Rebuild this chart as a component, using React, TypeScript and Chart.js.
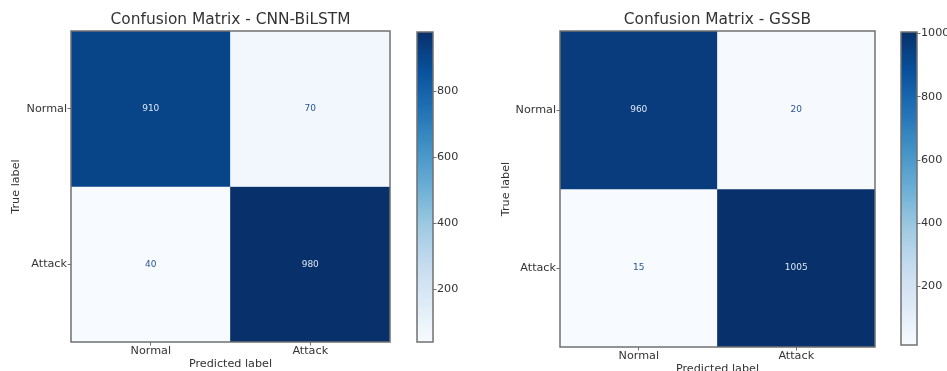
import { useEffect, useRef } from "react";
import { Chart, registerables } from "chart.js";

Chart.register(...registerables);

// Class names shared by both axes of each confusion matrix
const classLabels = ["Normal", "Attack"];

// CNN-BiLSTM: rows are the true label, columns the predicted label
const cnnBilstmNormalRow = [910, 70];
const cnnBilstmAttackRow = [40, 980];

// GSSB: rows are the true label, columns the predicted label
const gssbNormalRow = [960, 20];
const gssbAttackRow = [15, 1005];

// Colorbar tick values
const cnnBilstmColorbarTicks = [200, 400, 600, 800];
const gssbColorbarTicks = [200, 400, 600, 800, 1000];

const FONT = '"DejaVu Sans", "Liberation Sans", sans-serif';
const TEXT_COLOR = "#333333";
const SPINE_COLOR = "#707070";
const CELL_TEXT_ON_DARK = "#dce6f3";
const CELL_TEXT_ON_LIGHT = "#2a5597";

// Matplotlib "Blues" colormap anchor colours
const BLUES: number[][] = [
  [247, 251, 255],
  [222, 235, 247],
  [198, 219, 239],
  [158, 202, 225],
  [107, 174, 214],
  [66, 146, 198],
  [33, 113, 181],
  [8, 81, 156],
  [8, 48, 107],
];

function blues(t: number): string {
  const c = Math.max(0, Math.min(1, t)) * (BLUES.length - 1);
  const i = Math.min(BLUES.length - 2, Math.floor(c));
  const f = c - i;
  const a = BLUES[i];
  const b = BLUES[i + 1];
  const mix = (k: number) => Math.round(a[k] + (b[k] - a[k]) * f);
  return `rgb(${mix(0)}, ${mix(1)}, ${mix(2)})`;
}

// Border around the plotting area (all four spines)
const framePlugin = {
  id: "frame",
  afterDraw(chart: any) {
    const { ctx, chartArea } = chart;
    ctx.save();
    ctx.strokeStyle = SPINE_COLOR;
    ctx.lineWidth = 1.5;
    ctx.strokeRect(
      chartArea.left,
      chartArea.top,
      chartArea.right - chartArea.left,
      chartArea.bottom - chartArea.top
    );
    ctx.restore();
  },
};

type MatrixProps = {
  title: string;
  rows: number[][];
  left: number;
  width: number;
  height: number;
  yAxisWidth: number;
  xAxisHeight: number;
  padRight: number;
  yTitlePad: number;
};

function ConfusionMatrix({
  title,
  rows,
  left,
  width,
  height,
  yAxisWidth,
  xAxisHeight,
  padRight,
  yTitlePad,
}: MatrixProps) {
  const ref = useRef<HTMLCanvasElement | null>(null);

  useEffect(() => {
    if (!ref.current) return;
    const all = rows.flat();
    const vmin = Math.min(...all);
    const vmax = Math.max(...all);
    const thresh = (vmin + vmax) / 2;

    // One floating bar per cell: each true-label row spans its own band on y
    const datasets = rows.map((row, r) => ({
      label: classLabels[r],
      data: row.map(() => [r - 0.5, r + 0.5]),
      backgroundColor: row.map((v) => blues((v - vmin) / (vmax - vmin))),
      borderWidth: 0,
      barPercentage: 1,
      categoryPercentage: 1,
      grouped: false,
    }));

    const cellText = {
      id: "cellText",
      afterDatasetsDraw(chart: any) {
        const { ctx } = chart;
        ctx.save();
        ctx.font = `9px ${FONT}`;
        ctx.textAlign = "center";
        ctx.textBaseline = "middle";
        rows.forEach((row, r) => {
          const meta = chart.getDatasetMeta(r);
          row.forEach((v, c) => {
            const bar: any = meta.data[c];
            const cx = bar.x;
            const cy = (bar.y + bar.base) / 2;
            ctx.fillStyle = v >= thresh ? CELL_TEXT_ON_DARK : CELL_TEXT_ON_LIGHT;
            ctx.fillText(String(v), cx, cy);
          });
        });
        ctx.restore();
      },
    };

    const titlePlugin = {
      id: "panelTitle",
      afterDraw(chart: any) {
        const { ctx, chartArea } = chart;
        ctx.save();
        ctx.font = `15.4px ${FONT}`;
        ctx.fillStyle = TEXT_COLOR;
        ctx.textAlign = "center";
        ctx.textBaseline = "middle";
        ctx.fillText(title, (chartArea.left + chartArea.right) / 2, 20);
        ctx.restore();
      },
    };

    const chart = new Chart(ref.current, {
      type: "bar",
      data: { labels: classLabels, datasets: datasets as any },
      options: {
        animation: false,
        responsive: false,
        maintainAspectRatio: false,
        layout: { padding: { top: 31, right: padRight, left: 0, bottom: 0 } },
        plugins: {
          legend: { display: false },
          tooltip: { enabled: false },
          title: { display: false },
        },
        scales: {
          x: {
            type: "category",
            offset: true,
            grid: {
              offset: false,
              drawOnChartArea: false,
              tickLength: 3.5,
              color: SPINE_COLOR,
            },
            border: { display: false },
            ticks: { font: { family: FONT, size: 11.2 }, color: TEXT_COLOR, padding: -1 },
            title: {
              display: true,
              text: "Predicted label",
              font: { family: FONT, size: 11.2 },
              color: TEXT_COLOR,
              padding: 0,
            },
            afterFit: (s: any) => {
              s.height = xAxisHeight;
            },
          },
          y: {
            type: "linear",
            min: -0.5,
            max: 1.5,
            reverse: true,
            afterBuildTicks: (s: any) => {
              s.ticks = classLabels.map((_, i) => ({ value: i }));
            },
            grid: {
              drawOnChartArea: false,
              tickLength: 3.5,
              color: SPINE_COLOR,
            },
            border: { display: false },
            ticks: {
              font: { family: FONT, size: 11.2 },
              color: TEXT_COLOR,
              padding: 0.5,
              callback: (v: any) => classLabels[Number(v)] ?? "",
            },
            title: {
              display: true,
              text: "True label",
              font: { family: FONT, size: 11.2 },
              color: TEXT_COLOR,
              padding: { top: yTitlePad, bottom: 0 },
            },
            afterFit: (s: any) => {
              s.width = yAxisWidth;
            },
          },
        },
      } as any,
      plugins: [cellText, framePlugin, titlePlugin],
    });
    return () => chart.destroy();
  }, []);

  return (
    <canvas
      ref={ref}
      width={width}
      height={height}
      style={{ position: "absolute", left, top: 0, width, height }}
    />
  );
}

type ColorbarProps = {
  rows: number[][];
  ticks: number[];
  left: number;
  width: number;
  padBottom: number;
};

function Colorbar({ rows, ticks, left, width, padBottom }: ColorbarProps) {
  const ref = useRef<HTMLCanvasElement | null>(null);

  useEffect(() => {
    if (!ref.current) return;
    const all = rows.flat();
    const vmin = Math.min(...all);
    const vmax = Math.max(...all);
    const barWidth = 16;
    const padLeft = 7;

    // Paints the colormap gradient into the bar element laid out by the scale
    const gradientFill = {
      id: "gradientFill",
      afterDatasetsDraw(chart: any) {
        const bar: any = chart.getDatasetMeta(0).data[0];
        if (!bar) return;
        const { ctx } = chart;
        const top = Math.min(bar.y, bar.base);
        const bottom = Math.max(bar.y, bar.base);
        const g = ctx.createLinearGradient(0, bottom, 0, top);
        const n = 32;
        for (let i = 0; i <= n; i++) g.addColorStop(i / n, blues(i / n));
        ctx.save();
        ctx.fillStyle = g;
        ctx.fillRect(bar.x - bar.width / 2, top, bar.width, bottom - top);
        ctx.restore();
      },
    };

    const chart = new Chart(ref.current, {
      type: "bar",
      data: {
        labels: [""],
        datasets: [
          {
            data: [[vmin, vmax]] as any,
            backgroundColor: "rgba(0,0,0,0)",
            borderWidth: 0,
            barPercentage: 1,
            categoryPercentage: 1,
          },
        ],
      },
      options: {
        animation: false,
        responsive: false,
        maintainAspectRatio: false,
        layout: { padding: { top: 32, bottom: padBottom, left: padLeft, right: 0 } },
        plugins: { legend: { display: false }, tooltip: { enabled: false } },
        scales: {
          x: { display: false, offset: true },
          y: {
            position: "right",
            min: vmin,
            max: vmax,
            afterBuildTicks: (s: any) => {
              s.ticks = ticks.map((v) => ({ value: v }));
            },
            grid: { drawOnChartArea: false, tickLength: 3.5, color: SPINE_COLOR },
            border: { display: false },
            ticks: {
              font: { family: FONT, size: 11.2 },
              color: TEXT_COLOR,
              padding: 0.5,
              callback: (v: any) => String(v),
            },
            afterFit: (s: any) => {
              s.width = width - padLeft - barWidth;
            },
          },
        },
      } as any,
      plugins: [gradientFill, framePlugin],
    });
    return () => chart.destroy();
  }, []);

  return (
    <canvas
      ref={ref}
      width={width}
      height={371}
      style={{ position: "absolute", left, top: 0, width, height: 371 }}
    />
  );
}

export default function App() {
  const cnnRows = [cnnBilstmNormalRow, cnnBilstmAttackRow];
  const gssbRows = [gssbNormalRow, gssbAttackRow];
  return (
    <div
      style={{
        position: "fixed",
        left: 0,
        top: 0,
        width: 947,
        height: 371,
        overflow: "hidden",
        background: "#ffffff",
      }}
    >
      <ConfusionMatrix
        title="Confusion Matrix - CNN-BiLSTM"
        rows={cnnRows}
        left={0}
        width={400}
        height={371}
        yAxisWidth={71}
        xAxisHeight={29}
        padRight={10}
        yTitlePad={9.4}
      />
      <Colorbar rows={cnnRows} ticks={cnnBilstmColorbarTicks} left={410} width={60} padBottom={29} />
      <ConfusionMatrix
        title="Confusion Matrix - GSSB"
        rows={gssbRows}
        left={480}
        width={400}
        height={376}
        yAxisWidth={80}
        xAxisHeight={29}
        padRight={5}
        yTitlePad={19.4}
      />
      <Colorbar rows={gssbRows} ticks={gssbColorbarTicks} left={894} width={53} padBottom={26} />
    </div>
  );
}
